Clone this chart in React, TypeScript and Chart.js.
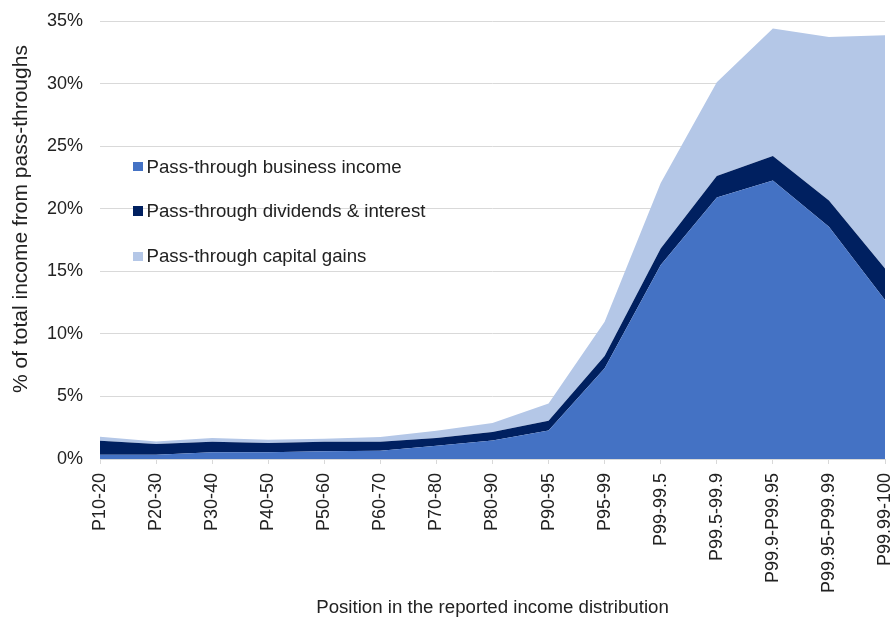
import React, { useEffect, useRef } from "react";
import { Chart, registerables } from "chart.js";

Chart.register(...registerables);

const categories = [
  "P10-20", "P20-30", "P30-40", "P40-50", "P50-60", "P60-70", "P70-80", "P80-90",
  "P90-95", "P95-99", "P99-99.5", "P99.5-99.9", "P99.9-P99.95", "P99.95-P99.99", "P99.99-100",
];
const businessIncome = [0.33, 0.33, 0.53, 0.53, 0.61, 0.66, 1.06, 1.48, 2.27, 7.26, 15.5, 20.89, 22.25, 18.55, 12.7];
const dividendsInterest = [1.13, 0.87, 0.85, 0.75, 0.77, 0.72, 0.61, 0.67, 0.78, 0.98, 1.33, 1.73, 1.96, 2.1, 2.53];
const capitalGains = [0.32, 0.2, 0.29, 0.26, 0.24, 0.37, 0.59, 0.72, 1.39, 2.73, 5.23, 7.49, 10.19, 13.08, 18.63];
const seriesNames = ["Pass-through business income", "Pass-through dividends & interest", "Pass-through capital gains"];
const seriesColors = ["#4472C4", "#002060", "#B4C7E7"];
const yMin = 0;
const yMax = 35;
const yStep = 5;
const yTitle = "% of total income from pass-throughs";
const xTitle = "Position in the reported income distribution";

const FONT = "'Liberation Sans', Arial, sans-serif";
const TEXT = "#222222";

const yTitlePlugin = {
  id: "yTitlePlugin",
  afterDraw(chart: any) {
    const ctx = chart.ctx;
    ctx.save();
    ctx.translate(21, 219);
    ctx.rotate(-Math.PI / 2);
    ctx.font = `21px ${FONT}`;
    ctx.fillStyle = TEXT;
    ctx.textAlign = "center";
    ctx.textBaseline = "middle";
    ctx.fillText(yTitle, 0, 0);
    ctx.restore();
  },
};

export default function App() {
  const ref = useRef<HTMLCanvasElement | null>(null);

  useEffect(() => {
    if (!ref.current) return;
    const values = [businessIncome, dividendsInterest, capitalGains];
    const chart = new Chart(ref.current, {
      type: "line",
      data: {
        labels: categories,
        datasets: values.map((d, i) => ({
          label: seriesNames[i],
          data: d,
          backgroundColor: seriesColors[i],
          borderColor: seriesColors[i],
          borderWidth: 0,
          pointRadius: 0,
          fill: i === 0 ? "origin" : "-1",
          tension: 0,
        })),
      },
      plugins: [yTitlePlugin],
      options: {
        responsive: false,
        animation: false,
        layout: { padding: { top: 21, right: 8, left: 0, bottom: 0 } },
        plugins: { legend: { display: false }, tooltip: { enabled: false } },
        scales: {
          x: {
            offset: false,
            grid: { drawOnChartArea: false, drawTicks: true, tickLength: 5, color: "#d9d9d9" },
            border: { display: true, color: "#d9d9d9" },
            ticks: {
              minRotation: 90,
              maxRotation: 90,
              autoSkip: false,
              padding: 9,
              color: TEXT,
              font: { family: FONT, size: 18 },
            },
            title: {
              display: true,
              text: xTitle,
              color: TEXT,
              font: { family: FONT, size: 18.67 },
              padding: { top: 4, bottom: 1 },
            },
            afterFit: (s: any) => {
              s.height = 161;
              s.paddingLeft = 0;
              s.paddingRight = 0;
            },
          },
          y: {
            stacked: true,
            min: yMin,
            max: yMax,
            ticks: {
              stepSize: yStep,
              padding: 17,
              color: TEXT,
              font: { family: FONT, size: 18 },
              callback: (v: any) => v + "%",
            },
            grid: { color: "#d9d9d9", drawTicks: false },
            border: { display: false },
            afterFit: (s: any) => {
              s.width = 100;
              s.paddingTop = 0;
              s.paddingBottom = 0;
            },
          },
        },
      },
    });
    return () => chart.destroy();
  }, []);

  const legendTop = [166.7, 211.2, 256.4];

  return (
    <div style={{ position: "absolute", left: 0, top: 0, width: 893, height: 620, background: "#fff" }}>
      <canvas ref={ref} width={893} height={620} style={{ width: 893, height: 620, display: "block" }} />
      {seriesNames.map((n, i) => (
        <div
          key={n}
          style={{
            position: "absolute",
            left: 133,
            top: legendTop[i] - 12,
            height: 24,
            display: "flex",
            alignItems: "center",
            fontFamily: FONT,
            fontSize: 18.67,
            color: TEXT,
            whiteSpace: "nowrap",
          }}
        >
          <span style={{ display: "inline-block", width: 9.5, height: 9.5, background: seriesColors[i], marginRight: 4 }} />
          {n}
        </div>
      ))}
    </div>
  );
}
